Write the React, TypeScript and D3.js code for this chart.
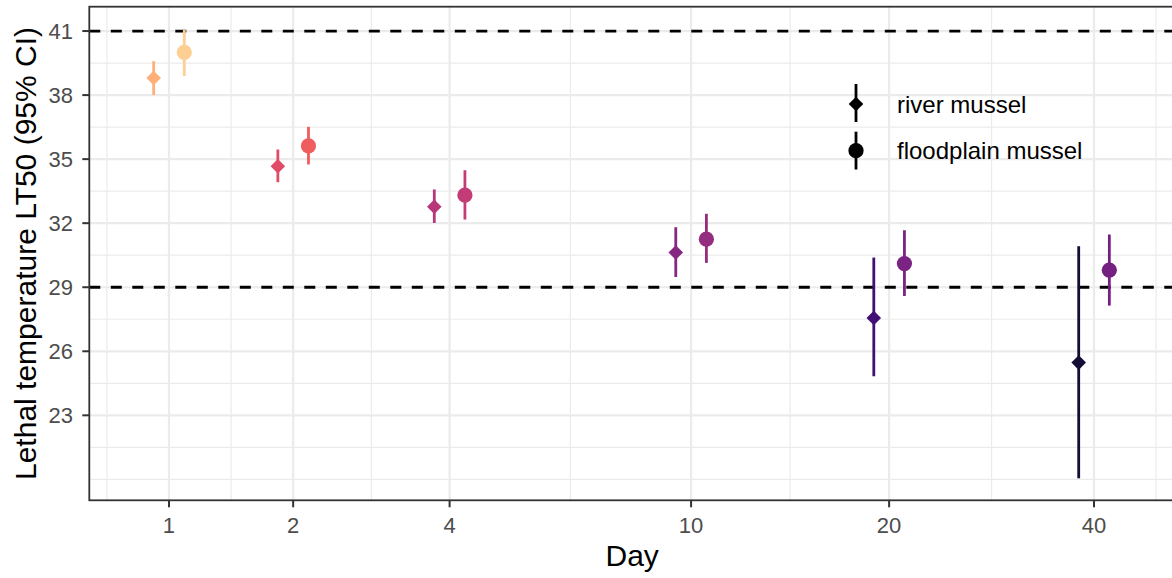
import React from 'react';
import * as d3 from 'd3';

// ---- data ----
const days = [1, 2, 4, 10, 20, 40];
const dayLabels = ['1', '2', '4', '10', '20', '40'];

const riverLT50 = [38.8, 34.67, 32.77, 30.63, 27.56, 25.47];
const riverLower = [38.0, 33.92, 32.01, 29.48, 24.83, 20.05];
const riverUpper = [39.59, 35.45, 33.58, 31.81, 30.39, 30.92];

const floodLT50 = [40.0, 35.62, 33.31, 31.25, 30.11, 29.8];
const floodLower = [38.89, 34.75, 32.17, 30.14, 28.59, 28.14];
const floodUpper = [41.05, 36.51, 34.48, 32.44, 31.67, 31.47];

const yTicks = [23, 26, 29, 32, 35, 38, 41];
const refLines = [41, 29];
const seriesNames = ['river mussel', 'floodplain mussel'];

const FONT = "'Liberation Sans', Arial, Helvetica, sans-serif";

function diamond(r: number) {
  return `M0,${-r}L${r},0L0,${r}L${-r},0Z`;
}

export default function App() {
  const W = 1172;
  const H = 578;
  const left = 89.3;
  const right = 1175;
  const top = 6.7;
  const bottom = 500.3;

  const x = d3.scaleSymlog().constant(1).domain([0.5418, 52.41]).range([left, right]);
  const y = d3.scaleLinear().domain([19.02, 42.14]).range([bottom, top]);
  const color = d3.scaleSequential(d3.interpolateMagma).domain([23.65, 41.81]);

  const tr = (d: number) => Math.log1p(d);
  const inv = (t: number) => Math.expm1(t);
  const dodge = 0.05;
  const xd = (d: number, off: number) => x(inv(tr(d) + off));

  // minor breaks (ggplot style, in transformed space)
  const tb = days.map(tr);
  const bd = tb[1] - tb[0];
  const ext = [tb[0] - bd, ...tb, tb[tb.length - 1] + bd];
  const xMinor: number[] = [];
  for (let i = 0; i < ext.length - 1; i++) xMinor.push(inv((ext[i] + ext[i + 1]) / 2));

  const ystep = yTicks[1] - yTicks[0];
  const yext = [yTicks[0] - ystep, ...yTicks, yTicks[yTicks.length - 1] + ystep];
  const yMinor: number[] = [yext[0]];
  for (let i = 0; i < yext.length - 1; i++) yMinor.push((yext[i] + yext[i + 1]) / 2);

  const inPanelY = (v: number) => y(v) >= top - 0.5 && y(v) <= bottom + 0.5;

  const series = [
    { name: seriesNames[0], mid: riverLT50, lo: riverLower, hi: riverUpper, off: -dodge, shape: 'diamond' },
    { name: seriesNames[1], mid: floodLT50, lo: floodLower, hi: floodUpper, off: dodge, shape: 'circle' },
  ];

  return (
    <svg
      width={W}
      height={H}
      style={{ position: 'fixed', left: 0, top: 0, display: 'block', background: '#fff' }}
      fontFamily={FONT}
    >
      <rect x={0} y={0} width={W} height={H} fill="#fff" />
      {/* minor grid */}
      {yMinor.filter(inPanelY).map((v, i) => (
        <line key={'ym' + i} x1={left} x2={right} y1={y(v)} y2={y(v)} stroke="#EBEBEB" strokeWidth={1.2} />
      ))}
      {xMinor.map((d, i) => (
        <line key={'xm' + i} x1={x(d)} x2={x(d)} y1={top} y2={bottom} stroke="#EBEBEB" strokeWidth={1.2} />
      ))}
      {/* major grid */}
      {yTicks.map((v) => (
        <line key={'yM' + v} x1={left} x2={right} y1={y(v)} y2={y(v)} stroke="#EBEBEB" strokeWidth={2.2} />
      ))}
      {days.map((d) => (
        <line key={'xM' + d} x1={x(d)} x2={x(d)} y1={top} y2={bottom} stroke="#EBEBEB" strokeWidth={2.2} />
      ))}
      {/* reference lines */}
      {refLines.map((v) => (
        <line
          key={'ref' + v}
          x1={left}
          x2={right}
          y1={y(v)}
          y2={y(v)}
          stroke="#000"
          strokeWidth={2.8}
          strokeDasharray="11 10.5"
        />
      ))}
      {/* points with CI */}
      {series.map((s) =>
        days.map((d, i) => {
          const cx = xd(d, s.off);
          const c = color(s.mid[i]);
          return (
            <g key={s.name + d}>
              <line x1={cx} x2={cx} y1={y(s.lo[i])} y2={y(s.hi[i])} stroke={c} strokeWidth={2.8} />
              {s.shape === 'diamond' ? (
                <path d={diamond(7.3)} transform={`translate(${cx},${y(s.mid[i])})`} fill={c} />
              ) : (
                <circle cx={cx} cy={y(s.mid[i])} r={7.6} fill={c} />
              )}
            </g>
          );
        })
      )}
      {/* panel border */}
      <rect x={left} y={top} width={right - left} height={bottom - top} fill="none" stroke="#333333" strokeWidth={1.8} />
      {/* y axis ticks */}
      {yTicks.map((v) => (
        <g key={'yt' + v}>
          <line x1={left - 7} x2={left} y1={y(v)} y2={y(v)} stroke="#333333" strokeWidth={2} />
          <text x={73} y={y(v)} dy="0.36em" textAnchor="end" fontSize={22} fill="#4D4D4D">
            {v}
          </text>
        </g>
      ))}
      {/* x axis ticks */}
      {days.map((d, i) => (
        <g key={'xt' + d}>
          <line x1={x(d)} x2={x(d)} y1={bottom} y2={bottom + 7} stroke="#333333" strokeWidth={2} />
          <text x={x(d)} y={533} textAnchor="middle" fontSize={22} fill="#4D4D4D">
            {dayLabels[i]}
          </text>
        </g>
      ))}
      {/* axis titles */}
      <text x={(left + right) / 2} y={566} textAnchor="middle" fontSize={30} fill="#000">
        Day
      </text>
      <text
        transform={`translate(35.5,${(top + bottom) / 2}) rotate(-90)`}
        textAnchor="middle"
        fontSize={30}
        fill="#000"
      >
        Lethal temperature LT50 (95% CI)
      </text>
      {/* legend */}
      <g>
        <line x1={856} x2={856} y1={84} y2={122} stroke="#000" strokeWidth={2.8} />
        <path d={diamond(7.3)} transform="translate(856,104)" fill="#000" />
        <text x={897} y={104} dy="0.36em" fontSize={24} fill="#000">
          {seriesNames[0]}
        </text>
        <line x1={856} x2={856} y1={131.7} y2={169.5} stroke="#000" strokeWidth={2.8} />
        <circle cx={856} cy={150.7} r={7.6} fill="#000" />
        <text x={897} y={150.7} dy="0.36em" fontSize={24} fill="#000">
          {seriesNames[1]}
        </text>
      </g>
    </svg>
  );
}
